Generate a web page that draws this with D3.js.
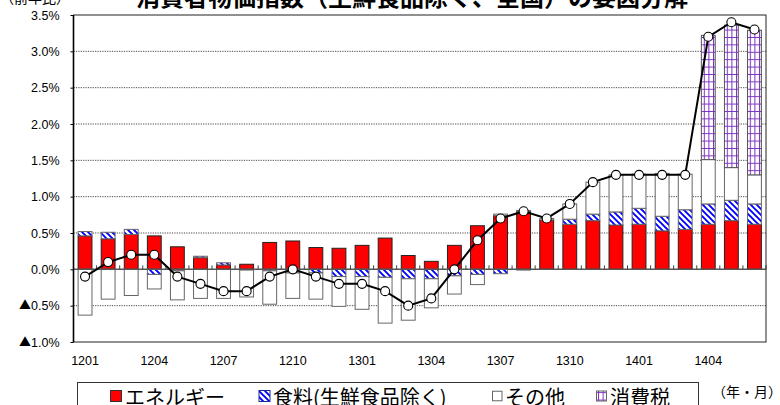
<!DOCTYPE html>
<html>
<head>
<meta charset="utf-8">
<script src="https://cdn.jsdelivr.net/npm/d3@7"></script>
<style>
  html, body { margin: 0; padding: 0; background: #fff; }
  svg { display: block; }
  text { font-family: "Liberation Sans", Arial, sans-serif; }
  .jp { font-family: "Noto Sans CJK JP", "Noto Sans", sans-serif; }
</style>
</head>
<body>
<svg id="chart" width="780" height="405"></svg>
<script>
// ---------------- data ----------------
const months = ["1201","1202","1203","1204","1205","1206","1207","1208","1209","1210","1211","1212",
                "1301","1302","1303","1304","1305","1306","1307","1308","1309","1310","1311","1312",
                "1401","1402","1403","1404","1405","1406"];
const energy = [0.46,0.42,0.48,0.46,0.31,0.16,0.06,0.07,0.37,0.39,0.30,0.29,
                0.33,0.43,0.19,0.11,0.33,0.60,0.74,0.80,0.68,0.62,0.67,0.61,
                0.62,0.53,0.55,0.62,0.67,0.62];
const food   = [0.06,0.09,0.07,-0.07,-0.02,0.02,0.03,-0.01,-0.02,-0.05,-0.05,-0.10,
                -0.10,-0.11,-0.13,-0.13,-0.09,-0.07,-0.06,-0.01,0.00,0.07,0.09,0.18,
                0.22,0.20,0.27,0.28,0.28,0.28];
const other  = [-0.63,-0.41,-0.36,-0.20,-0.40,-0.40,-0.40,-0.37,-0.46,-0.35,-0.36,-0.41,
                -0.45,-0.63,-0.57,-0.40,-0.25,-0.14,0.02,0.01,0.02,0.21,0.44,0.51,
                0.47,0.59,0.49,0.61,0.45,0.40];
const tax    = [0,0,0,0,0,0,0,0,0,0,0,0,
                0,0,0,0,0,0,0,0,0,0,0,0,
                0,0,0,1.71,1.96,1.99];
const total  = [-0.1,0.1,0.2,0.2,-0.1,-0.2,-0.3,-0.3,-0.1,0.0,-0.1,-0.2,
                -0.2,-0.3,-0.5,-0.4,0.0,0.4,0.7,0.8,0.7,0.9,1.2,1.3,
                1.3,1.3,1.3,3.2,3.4,3.3];
const yTicks = [-1.0,-0.5,0.0,0.5,1.0,1.5,2.0,2.5,3.0,3.5];
const xLabels = ["1201","1204","1207","1210","1301","1304","1307","1310","1401","1404"];
const seriesNames = ["エネルギー","食料(生鮮食品除く)","その他","消費税"];
const titleText = "消費者物価指数（生鮮食品除く、全国）の要因分解";

// ---------------- layout ----------------
const L = 73.5, R = 766, T = 15, B = 342;
const svg = d3.select("#chart");
svg.append("rect").attr("width",780).attr("height",405).attr("fill","#fff");

const defs = svg.append("defs");
const hatch = defs.append("pattern").attr("id","hatch").attr("patternUnits","userSpaceOnUse")
  .attr("width",6).attr("height",6);
hatch.append("rect").attr("width",6).attr("height",6).attr("fill","#fff");
hatch.append("path").attr("d","M-1,-1L7,7M-1,5L1,7M5,-1L7,1")
  .attr("stroke","#0000ff").attr("stroke-width",1.9);
const grid = defs.append("pattern").attr("id","grid").attr("patternUnits","userSpaceOnUse")
  .attr("width",4.6).attr("height",7.4);
grid.append("rect").attr("width",4.6).attr("height",7.4).attr("fill","#fff");
grid.append("path").attr("d","M0,0.5H4.6M0.5,0V7.4")
  .attr("stroke","#7a2fc0").attr("stroke-width",1);

const x = d3.scaleBand().domain(months).range([L,R]).paddingInner(0.4).paddingOuter(0.2);
const y = d3.scaleLinear().domain([-1,3.5]).range([B,T]);

// title (partly cut off at top, as in the reference)
svg.append("text").attr("class","jp").attr("x",412).attr("y",6)
  .attr("text-anchor","middle").attr("font-size",24).attr("font-weight","bold")
  .attr("fill","#000").text(titleText);
svg.append("text").attr("class","jp").attr("x",0).attr("y",3)
  .attr("font-size",14).attr("fill","#000").text("（前年比）");

// gridlines
svg.append("g").selectAll("line").data(yTicks.filter(v => v !== 0 && v !== -1 && v !== 3.5))
  .join("line").attr("x1",L).attr("x2",R).attr("y1",d=>y(d)).attr("y2",d=>y(d))
  .attr("stroke","#333").attr("stroke-width",0.9).attr("stroke-dasharray","1.2,1.2");

// stacked bars
const keys = ["energy","food","other","tax"];
const fills = {energy:"#ff0000", food:"url(#hatch)", other:"#fff", tax:"url(#grid)"};
const strokes = {energy:"#222", food:"#666", other:"#666", tax:"#555"};
const segs = [];
months.forEach((m,i) => {
  const vals = {energy:energy[i], food:food[i], other:other[i], tax:tax[i]};
  let pos = 0, neg = 0;
  keys.forEach(k => {
    const v = vals[k];
    if (v === 0) return;
    if (v > 0) { segs.push({m,k,y0:pos,y1:pos+v}); pos += v; }
    else { segs.push({m,k,y0:neg+v,y1:neg}); neg += v; }
  });
});
svg.append("g").selectAll("rect").data(segs).join("rect")
  .attr("x",d=>x(d.m)).attr("width",x.bandwidth())
  .attr("y",d=>y(d.y1)).attr("height",d=>Math.max(0.5,y(d.y0)-y(d.y1)))
  .attr("fill",d=>fills[d.k]).attr("stroke",d=>strokes[d.k]).attr("stroke-width",1);

// zero line
svg.append("line").attr("x1",L).attr("x2",R).attr("y1",y(0)).attr("y2",y(0))
  .attr("stroke","#555").attr("stroke-width",1.5);
// category ticks on zero line (pointing up)
const step = x.step();
const bounds = months.map(m => x(m) - (step - x.bandwidth())/2).concat([R]);
svg.append("g").selectAll("line").data(bounds).join("line")
  .attr("x1",d=>d).attr("x2",d=>d).attr("y1",y(0)).attr("y2",y(0)-4)
  .attr("stroke","#444").attr("stroke-width",1);

// total line
const line = d3.line().x((d,i)=>x(months[i])+x.bandwidth()/2).y(d=>y(d));
svg.append("path").datum(total).attr("d",line).attr("fill","none")
  .attr("stroke","#000").attr("stroke-width",2);
svg.append("g").selectAll("circle").data(total).join("circle")
  .attr("cx",(d,i)=>x(months[i])+x.bandwidth()/2).attr("cy",d=>y(d)).attr("r",4.5)
  .attr("fill","#fff").attr("stroke","#000").attr("stroke-width",1.1);

// frame
svg.append("rect").attr("x",L).attr("y",T).attr("width",R-L).attr("height",B-T)
  .attr("fill","none").attr("stroke","#222").attr("stroke-width",1);
svg.append("line").attr("x1",L).attr("x2",L).attr("y1",T).attr("y2",B)
  .attr("stroke","#000").attr("stroke-width",1.6);

// y axis
const fmtNum = v => d3.format(".1f")(Math.abs(v)) + "%";
const yAxis = svg.append("g").attr("transform",`translate(${L},0)`)
  .call(d3.axisLeft(y).tickValues(yTicks).tickFormat(fmtNum).tickSize(3).tickPadding(11));
yAxis.select(".domain").remove();
yAxis.selectAll("line").attr("stroke","#000");
yAxis.selectAll("text").attr("font-size",12.5).attr("fill","#000")
  .attr("font-family","Liberation Sans, Arial, sans-serif")
  .each(function(d){
    if (d < 0) {
      const t = d3.select(this);
      const num = t.text();
      t.text(null);
      t.append("tspan").attr("font-family","Noto Sans CJK JP, sans-serif").attr("font-size",12).text("▲");
      t.append("tspan").text(num);
    }
  });

// x axis labels
const xAxis = svg.append("g").attr("transform",`translate(0,${B})`)
  .call(d3.axisBottom(x).tickValues(xLabels).tickSize(0).tickPadding(14));
xAxis.select(".domain").remove();
xAxis.selectAll("text").attr("font-size",12.5).attr("fill","#000")
  .attr("font-family","Liberation Sans, Arial, sans-serif");

// legend
const lg = svg.append("g");
lg.append("rect").attr("x",77.5).attr("y",382.5).attr("width",621).attr("height",40)
  .attr("fill","#fff").attr("stroke","#333").attr("stroke-width",1);
const legItems = [
  {mx:110.5, tx:125, size:11, fill:"#ff0000", stroke:"#333", name:seriesNames[0]},
  {mx:259,   tx:273, size:11, fill:"url(#hatch)", stroke:"#1a2a9a", name:seriesNames[1]},
  {mx:492.5, tx:505, size:9.5, fill:"#fff", stroke:"#666", name:seriesNames[2]},
  {mx:596.5, tx:610, size:10, fill:"url(#grid)", stroke:"#666", name:seriesNames[3]}
];
legItems.forEach(it => {
  lg.append("rect").attr("x",it.mx).attr("y",396-it.size/2).attr("width",it.size).attr("height",it.size)
    .attr("fill",it.fill).attr("stroke",it.stroke).attr("stroke-width",1);
  lg.append("text").attr("class","jp").attr("x",it.tx).attr("y",396)
    .attr("dominant-baseline","central").attr("font-size",20).attr("fill","#000").text(it.name);
});
svg.append("text").attr("class","jp").attr("x",712).attr("y",390.5)
  .attr("dominant-baseline","central").attr("font-size",14).attr("fill","#000").text("（年・月）");
</script>
</body>
</html>
